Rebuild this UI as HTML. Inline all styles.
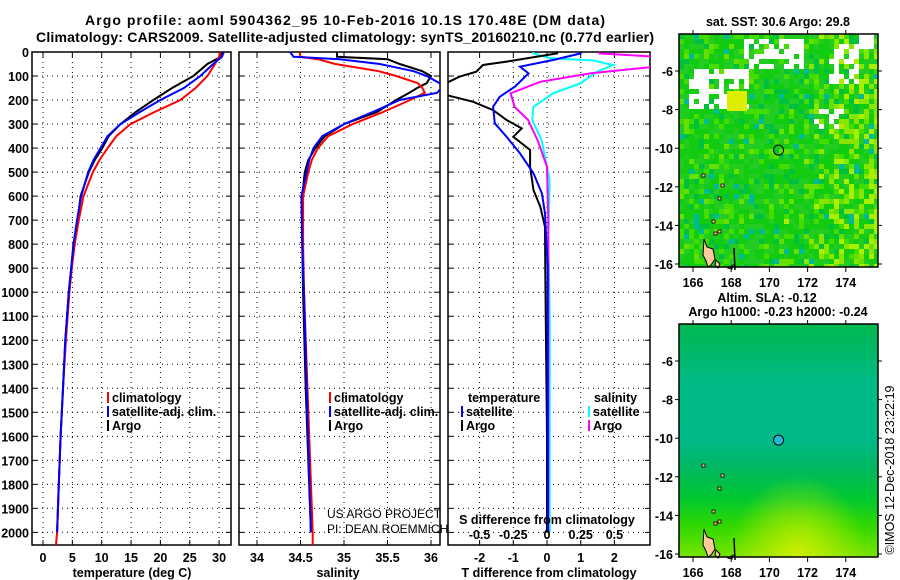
<!DOCTYPE html>
<html><head><meta charset="utf-8"><style>
html,body{margin:0;padding:0;background:#fff}
svg{display:block}
text{font-family:"Liberation Sans",sans-serif;font-weight:bold;fill:#000}
</style></head><body>
<svg id="c" width="900" height="580" viewBox="0 0 900 580" xmlns="http://www.w3.org/2000/svg">
<text x="345" y="25" font-size="14" text-anchor="middle" textLength="520">Argo profile: aoml 5904362_95 10-Feb-2016 10.1S 170.48E (DM data)</text>
<text x="345" y="42" font-size="14" text-anchor="middle" textLength="618">Climatology: CARS2009. Satellite-adjusted climatology: synTS_20160210.nc (0.77d earlier)</text>
<defs>
<linearGradient id="slaGrad" x1="0" y1="0" x2="0" y2="1">
<stop offset="0" stop-color="#00b850"/><stop offset="0.12" stop-color="#00b868"/><stop offset="0.25" stop-color="#00bb88"/><stop offset="0.5" stop-color="#00b988"/><stop offset="0.62" stop-color="#00b860"/><stop offset="0.75" stop-color="#00c830"/><stop offset="0.87" stop-color="#33d800"/><stop offset="1" stop-color="#77e400"/>
</linearGradient>
<radialGradient id="slaYellow" cx="0.6" cy="1" r="0.35">
<stop offset="0" stop-color="#ccee00" stop-opacity="1"/><stop offset="1" stop-color="#ccee00" stop-opacity="0"/>
</radialGradient>
</defs>
<g id="g"></g>
</svg>
<script>
// ---- data ----
const depthLevels=[0,20,50,100,150,200,250,300,350,400,450,500,600,700,800,900,1000,1200,1400,1600,1800,2000];
const tempArgo=[30.5,30.3,28,25.6,22,18.8,15.8,13.2,11.2,10.1,8.8,7.8,6.4,5.9,5.2,4.8,4.4,3.8,3.4,3.0,2.7,2.4];
const tempClim=[30.2,30,29.3,28,26,23.4,19,14.9,12.5,11,9.6,8.5,6.9,6.1,5.4,4.9,4.5,3.9,3.4,3.0,2.7,2.4];
const tempSat=[30.8,30.5,29,26.8,24,20,16.5,13.2,11,9.8,8.6,7.7,6.5,5.8,5.2,4.8,4.4,3.8,3.4,3.0,2.7,2.4];
const salDepths=[0,20,30,50,80,100,130,150,170,200,250,300,350,400,450,500,600,800,1000,1400,2000];
const salArgo=[34.92,34.92,35.5,35.64,35.9,36.0,35.95,35.84,35.75,35.6,35.38,35.0,34.78,34.67,34.59,34.55,34.52,34.52,34.53,34.56,34.62];
const salClim=[34.49,34.5,34.7,34.9,35.4,35.6,35.85,35.9,35.93,35.76,35.45,35.1,34.82,34.7,34.63,34.59,34.53,34.53,34.54,34.58,34.64];
const salSat=[34.38,34.42,34.95,35.41,35.8,35.95,36.1,36.12,36.07,35.64,35.33,35.0,34.75,34.65,34.6,34.57,34.51,34.52,34.54,34.57,34.62];
const dTDepths=[0,6,40,54,82,103,144,179,207,242,283,318,353,408,478,575,644,728,922,1200,1600,2000];
const dTArgo=[0.3,0.3,-1.2,-1.9,-2.1,-2.6,-3.2,-3.0,-2.2,-1.6,-1.2,-0.75,-1.0,-0.5,-0.5,-0.4,-0.2,-0.06,-0.05,-0.03,0,0];
const dTSatDepths=[0,6,33,61,89,144,186,228,297,353,422,505,589,672,900,1400,2000];
const dTSat=[1.0,1.0,0.2,-0.8,-0.55,-0.95,-1.4,-1.6,-1.55,-1.2,-0.8,-0.4,-0.15,-0.06,0.02,0.02,0.03];
const dSDepths=[0,6,26,35,54,82,130,172,228,283,367,533,783,1100,1500,2000];
const dSSat=[-0.1,-0.1,0.02,0.34,0.49,0.37,0.25,0.045,-0.1,-0.11,-0.04,0.02,0.01,0.02,0.02,0.02];
const dSArgoDepths=[0,6,19,40,61,89,124,172,228,283,367,478,700,1200,2000];
const dSArgo=[0.39,0.39,0.8,0.8,0.8,0.32,-0.05,-0.27,-0.24,-0.14,-0.07,0.0,0.01,0.01,0.01];
const depthTicks=[0,100,200,300,400,500,600,700,800,900,1000,1100,1200,1300,1400,1500,1600,1700,1800,1900,2000];
const tempTicks=[0,5,10,15,20,25,30];
const salTicks=[34,34.5,35,35.5,36];
const salTickLabels=["34","34.5","35","35.5","36"];
const dTTicks=[-2,-1,0,1,2];
const dSTicks=[-0.5,-0.25,0,0.25,0.5];
const dSTickLabels=["-0.5","-0.25","0","0.25","0.5"];
const lonTicks=[166,168,170,172,174];
const latTicks=[-6,-8,-10,-12,-14,-16];

// ---- scales ----
const yTop=52,yBot=545;
const yD=d=>yTop+d*0.2402;
const xT=t=>43+t*5.87;
const xS=s=>257+(s-34)*87;
const xDT=t=>547+t*33.7;
const xDS=s=>547+s*134.8;
const mx=lon=>693+(lon-166)*19.1;
const myA=lat=>71+(-6-lat)*19.3;
const myB=lat=>361+(-6-lat)*19.3;

const NS='http://www.w3.org/2000/svg';
const G=document.getElementById('g');
function el(tag,attrs,parent){const e=document.createElementNS(NS,tag);for(const k in attrs)e.setAttribute(k,attrs[k]);(parent||G).appendChild(e);return e;}
function txt(x,y,s,size,anchor,parent){const t=el('text',{x:x,y:y,'font-size':size,'text-anchor':anchor||'middle'},parent);t.textContent=s;return t;}

const panels=[[32,231,'temperature-panel'],[239,440,'salinity-panel'],[448,650,'difference-panel']];
const defs=el('defs',{});
panels.forEach((p,i)=>{const cp=el('clipPath',{id:'cp'+i},defs);el('rect',{x:p[0],y:yTop,width:p[1]-p[0],height:yBot-yTop},cp);});

function gridPanel(i,xs){
  const p=panels[i];
  const g=el('g',{});
  
  
  depthTicks.forEach(d=>{el('line',{x1:p[0],x2:p[1],y1:yD(d),y2:yD(d),stroke:'#000','stroke-width':1,'stroke-dasharray':'1,4'},g);
    el('line',{x1:p[0],x2:p[0]+5,y1:yD(d),y2:yD(d),stroke:'#000'},g);el('line',{x1:p[1]-5,x2:p[1],y1:yD(d),y2:yD(d),stroke:'#000'},g);});
  xs.forEach(x=>{el('line',{x1:x,x2:x,y1:yTop,y2:yBot,stroke:'#000','stroke-dasharray':'1,4'},g);
    el('line',{x1:x,x2:x,y1:yBot-5,y2:yBot,stroke:'#000'},g);el('line',{x1:x,x2:x,y1:yTop,y2:yTop+5,stroke:'#000'},g);});
  const r=el('rect',{x:p[0],y:yTop,width:p[1]-p[0],height:yBot-yTop,fill:'none',stroke:'#000','stroke-width':1.5});
  
  
}
gridPanel(0,tempTicks.map(xT));
gridPanel(1,salTicks.map(xS));
gridPanel(2,dTTicks.map(xDT));

function curve(i,depths,vals,xf,color,name,w){
  const pts=depths.map((d,k)=>xf(vals[k]).toFixed(1)+','+yD(d).toFixed(1)).join(' ');
  const pl=el('polyline',{points:pts,fill:'none',stroke:color,'stroke-width':w||2,'clip-path':'url(#cp'+i+')'});
  
  
}
curve(0,depthLevels,tempArgo,xT,'#000','temp-argo-line');
curve(0,depthLevels.concat([2054]),tempClim.concat([2.2]),xT,'#f00','temp-climatology-line');
curve(0,depthLevels,tempSat,xT,'#00f','temp-satellite-line');
curve(1,salDepths,salArgo,xS,'#000','sal-argo-line');
curve(1,salDepths.concat([2054]),salClim.concat([34.64]),xS,'#f00','sal-climatology-line');
curve(1,salDepths,salSat,xS,'#00f','sal-satellite-line');
curve(2,dSDepths,dSSat,xDS,'#0ff','sdiff-satellite-line');
curve(2,dSArgoDepths,dSArgo,xDS,'#f0f','sdiff-argo-line');
curve(2,dTDepths,dTArgo,xDT,'#000','tdiff-argo-line');
curve(2,dTSatDepths,dTSat,xDT,'#00f','tdiff-satellite-line');

const FS=12.5;
depthTicks.forEach(d=>{const t=txt(29,yD(d)+5,String(d),FS,'end');});
tempTicks.forEach(v=>{const t=txt(xT(v),562,String(v),FS);});
salTicks.forEach((v,k)=>{const t=txt(xS(v),562,salTickLabels[k],FS);});
dTTicks.forEach(v=>{const t=txt(xDT(v),562,String(v),FS);});
dSTicks.forEach((v,k)=>{const t=txt(xDS(v),539,dSTickLabels[k],FS);});
let t;
t=txt(132,577,'temperature (deg C)',FS);
t=txt(338,577,'salinity',FS);
t=txt(549,577,'T difference from climatology',FS);
t=txt(547,524,'S difference from climatology',FS);
t=txt(327,518,'US ARGO PROJECT',12,'start');t.setAttribute('style','font-weight:normal');
t=txt(327,533,'PI: DEAN ROEMMICH',12,'start');t.setAttribute('style','font-weight:normal');

function legend(x,y,color,label,name){
  const g=el('g',{});
  
  
  el('rect',{x:x,y:y-10,width:2,height:11,fill:color},g);
  txt(x+5,y,label,FS,'start',g);
}
legend(107,402,'#f00','climatology','legend-climatology');
legend(107,416,'#00f','satellite-adj. clim.','legend-satellite-adj');
legend(107,430,'#000','Argo','legend-argo');
legend(329,402,'#f00','climatology','legend-sal-climatology');
legend(329,416,'#00f','satellite-adj. clim.','legend-sal-satellite-adj');
legend(329,430,'#000','Argo','legend-sal-argo');
t=txt(468,402,'temperature',FS,'start');
t=txt(594,402,'salinity',FS,'start');
legend(461,416,'#00f','satellite','legend-t-satellite');
legend(461,430,'#000','Argo','legend-t-argo');
legend(588,416,'#0ff','satellite','legend-s-satellite');
legend(588,430,'#f0f','Argo','legend-s-argo');

// ---- maps ----
function hash(i,j,s){let h=(i*374761393+j*668265263+s*982451653)|0;h=(h^(h>>>13))*1274126177|0;return ((h^(h>>>16))>>>0)/4294967295;}
function map(y0,top,name){
  const x0=679,w=199,h=233;
  const cpm=el('clipPath',{id:'cm'+top},defs);el('rect',{x:x0,y:y0,width:w,height:h},cpm);
  const g=el('g',{'clip-path':'url(#cm'+top+')'});
  
  
  if(top){
    const cs=5;
    for(let j=0;j<h/cs+1;j++)for(let i=0;i<w/cs+1;i++){
      const x=x0+i*cs,y=y0+j*cs;let c;
      const r=hash(i,j,1);
      const east=Math.max(0,(x-800)/80)*0.8+Math.max(0,(y-y0-140)/200)*Math.max(0,(x-770)/110);
      if(r<0.4)c='#11cc11';else if(r<0.7)c='#22cc22';else if(r<0.8)c='#00c040';else if(r<0.92)c='#44dd00';else c='#66e000';
      if(hash(i,j,2)<east*0.6)c=hash(i,j,3)<0.5?'#aaee00':'#88e600';
      if(hash(i,j,4)<0.03)c='#00bb99';
      const yy=y-y0;
      if((yy<15&&x>855&&x<870)||(yy>30&&yy<75&&x>688&&x<745&&hash(i,j,5)<0.75)||(yy>3&&yy<35&&x>740&&x<800&&hash(i,j,6)<0.6)||(yy>5&&yy<50&&x>825&&x<855&&hash(i,j,8)<0.6)||(yy>70&&yy<95&&x>812&&x<840&&hash(i,j,7)<0.5))c='#ffffff';
      el('rect',{x:x,y:y,width:cs,height:cs,fill:c},g);
    }
    el('rect',{x:727,y:y0+57,width:20,height:20,fill:'#ddee00'},g);
  }else{
    el('rect',{x:x0,y:y0,width:w,height:h,fill:'url(#slaGrad)'},g);
    el('rect',{x:x0,y:y0,width:w,height:h,fill:'url(#slaYellow)'},g);
  }
  const isl=el('g',{});
  
  
  el('path',{d:'M704 '+(y0+205)+' l3 8 l6 2 l2 10 l-4 6 l-3 2 l-2 -6 l-3 -6 z',fill:'#ffcc99',stroke:'#000','stroke-width':1},isl);
  el('path',{d:'M716 '+(y0+226)+' l4 4 l-2 4 l-3 -3 z',fill:'#ffcc99',stroke:'#000','stroke-width':1},isl);
  el('path',{d:'M728 '+(y0+234)+' l5 -3 l-1 4 z',fill:'#ffcc99',stroke:'#000','stroke-width':1},isl);
  el('path',{d:'M734 '+(y0+214)+' l1 22',stroke:'#000','stroke-width':1.5},isl);
  [[712,186],[718,196],[721,150],[702,140],[718,163],[714,198]].forEach(p=>el('rect',{x:p[0],y:y0+p[1],width:3,height:3,fill:'#ffcc99',stroke:'#000','stroke-width':0.8},isl));
  const fr=el('rect',{x:x0,y:y0,width:w,height:h,fill:'none',stroke:'#000','stroke-width':1.5});
  
  
  const my=top?myA:myB;
  lonTicks.forEach(v=>{el('line',{x1:mx(v),x2:mx(v),y1:y0+h,y2:y0+h+5,stroke:'#000'});el('line',{x1:mx(v),x2:mx(v),y1:y0-4,y2:y0,stroke:'#000'});
    const tt=txt(mx(v),y0+h+20,String(v),FS);});
  latTicks.forEach(v=>{el('line',{x1:x0-4,x2:x0,y1:my(v),y2:my(v),stroke:'#000'});el('line',{x1:x0+w,x2:x0+w+4,y1:my(v),y2:my(v),stroke:'#000'});
    const tt=txt(x0-6,my(v)+5,String(v),FS,'end');});
  const c=el('circle',{cx:mx(170.48),cy:my(-10.1),r:5,fill:top?'none':'#22bbdd',stroke:'#000','stroke-width':1});
  
  
}
map(34,1,'sst-map');
map(324,0,'sla-map');
t=txt(778,26,'sat. SST: 30.6 Argo: 29.8',FS);
t=txt(767,302,'Altim. SLA: -0.12',FS);
t=txt(778,316,'Argo h1000: -0.23 h2000: -0.24',FS);
t=txt(0,0,'©IMOS 12-Dec-2018 23:22:19',12.5);t.setAttribute('transform','translate(894,470) rotate(-90)');t.setAttribute('style','font-weight:normal');
</script>
</body></html>
